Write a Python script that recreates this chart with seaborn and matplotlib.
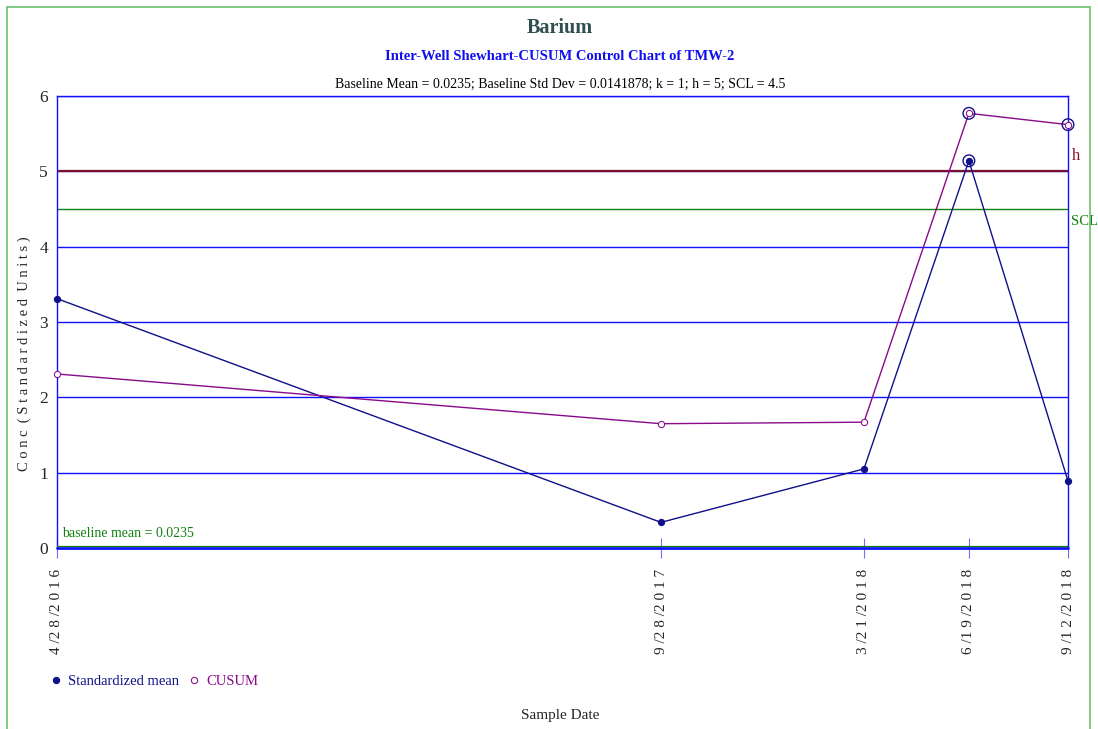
import pandas as pd
import seaborn as sns
import matplotlib.pyplot as plt
from matplotlib.patches import Rectangle

# data
dates = ['2016-04-28', '2017-09-28', '2018-03-21', '2018-06-19', '2018-09-12']
date_labels = ['4 /2 8 /2 0 1 6', '9 /2 8 /2 0 1 7', '3 /2 1 /2 0 1 8',
               '6 /1 9 /2 0 1 8', '9 /1 2 /2 0 1 8']
std_mean = [3.31, 0.34, 1.05, 5.14, 0.89]
cusum = [2.31, 1.65, 1.67, 5.77, 5.62]
h = 5
scl = 4.5
baseline = 0.0235

df = pd.DataFrame({'date': pd.to_datetime(dates), 'std': std_mean, 'cusum': cusum})

sns.set_style('white')
plt.rcParams['font.family'] = ['Liberation Serif', 'DejaVu Serif']

NAVY = '#10108a'
PURPLE = '#8a0a8a'
BLUE = '#1010ff'
GREEN = '#108010'

fig = plt.figure(figsize=(10.98, 7.29), dpi=100)
ax = fig.add_axes([57 / 1098, 1 - 548 / 729, (1068 - 57) / 1098, (548 - 96) / 729])

# frame around the whole figure
fig.patches.append(Rectangle((7 / 1098, -0.05), (1090 - 7) / 1098, 1 - 7 / 729 + 0.05,
                             transform=fig.transFigure, fill=False,
                             edgecolor='#6cc06c', linewidth=1.2))

# horizontal grid lines
for yv in range(1, 7):
    ax.axhline(yv, color=BLUE, linewidth=1.0, zorder=1)
ax.axhline(0, color=BLUE, linewidth=2.0, zorder=2, clip_on=False)
ax.axhline(baseline, color=GREEN, linewidth=0.9, zorder=3)
ax.axhline(scl, color=GREEN, linewidth=1.0, zorder=2)
ax.axhline(h, color='#7a1030', linewidth=1.6, zorder=2)

sns.lineplot(data=df, x='date', y='std', ax=ax, color=NAVY, linewidth=1.0,
             marker='o', markersize=4.5, markeredgecolor=NAVY, markerfacecolor=NAVY,
             zorder=4, label='Standardized mean', clip_on=False)
sns.lineplot(data=df, x='date', y='cusum', ax=ax, color=PURPLE, linewidth=1.0,
             marker='o', markersize=4.5, markeredgecolor=PURPLE, markerfacecolor='white',
             zorder=4, label='CUSUM', clip_on=False)

# rings around out-of-control points
out_std = df[df['std'] > scl]
out_cus = df[df['cusum'] > h]
ax.scatter(out_std['date'], out_std['std'], s=70, facecolors='none',
           edgecolors=NAVY, linewidths=1.0, zorder=5, clip_on=False)
ax.scatter(out_cus['date'], out_cus['cusum'], s=70, facecolors='none',
           edgecolors=NAVY, linewidths=1.0, zorder=5, clip_on=False)

ax.set_xlim(df['date'].iloc[0], df['date'].iloc[-1])
ax.set_ylim(0, 6)
ax.set_yticks(range(0, 7))
ax.set_yticklabels([str(v) for v in range(0, 7)], fontsize=12.5)
ax.set_xticks(df['date'])
ax.set_xticklabels(date_labels, rotation=90, fontsize=11, va='top')
ax.tick_params(axis='x', bottom=True, direction='inout', length=14, color='#7070ff',
               width=0.8, pad=8)
ax.tick_params(axis='y', left=False, pad=3)

for side in ['left', 'right', 'top']:
    ax.spines[side].set_color(BLUE)
    ax.spines[side].set_linewidth(1.0)
ax.spines['bottom'].set_visible(False)

ax.set_xlabel('')
ax.set_ylabel('C o n c  ( S t a n d a r d i z e d  U n i t s )', fontsize=10.5)
ax.yaxis.set_label_coords(-0.026, 0.43)

ax.text(1.004, h + 0.1, 'h', transform=ax.get_yaxis_transform(), color='#8a1020',
        fontsize=12, va='bottom', ha='left')
ax.text(1.003, scl - 0.08, 'SCL', transform=ax.get_yaxis_transform(), color=GREEN,
        fontsize=10.5, va='top', ha='left')
ax.text(0.005, baseline + 0.08, 'baseline mean = 0.0235', transform=ax.get_yaxis_transform(),
        color=GREEN, fontsize=10, va='bottom', ha='left')

fig.text(0.51, 1 - 28 / 729, 'Barium', color='#2f4f4f', fontsize=14.5, fontweight='bold',
         ha='center', va='center')
fig.text(0.51, 1 - 57 / 729, 'Inter-Well Shewhart-CUSUM Control Chart of TMW-2', color='#1010ee',
         fontsize=10.5, fontweight='bold', ha='center', va='center')
fig.text(0.51, 1 - 84 / 729,
         'Baseline Mean = 0.0235; Baseline Std Dev = 0.0141878; k = 1; h = 5; SCL = 4.5',
         color='black', fontsize=10, ha='center', va='center')
fig.text(0.51, 1 - 715 / 729, 'Sample Date', fontsize=11, ha='center', va='center')

leg = ax.legend(loc='upper left', bbox_to_anchor=(-0.018, -0.252), ncol=2, frameon=False,
                fontsize=10.5, handlelength=0.5, handletextpad=0.6, columnspacing=0.8)
for line in leg.get_lines():
    line.set_linestyle('none')
for text, col in zip(leg.get_texts(), [NAVY, PURPLE]):
    text.set_color(col)

fig.savefig('out.png', dpi=100)
